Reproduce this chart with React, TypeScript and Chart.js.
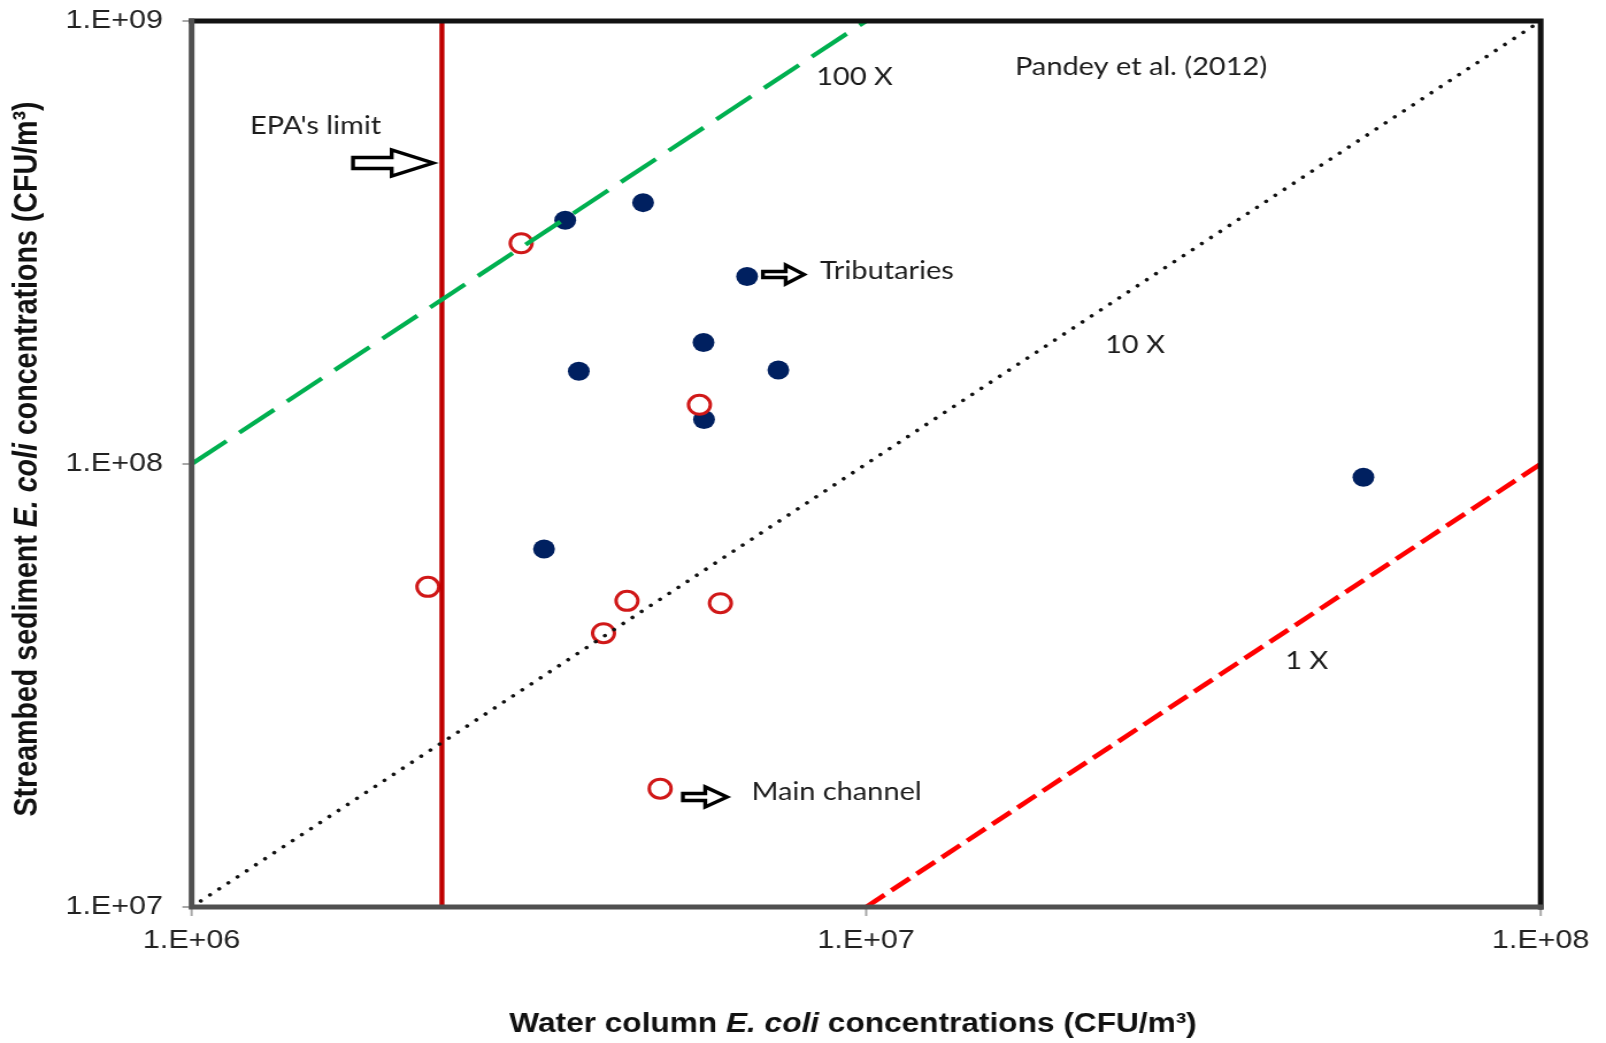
import React, { useEffect, useRef } from 'react';
import { Chart, registerables } from 'chart.js';

Chart.register(...registerables);

// Log-decade ticks
const xTickValues = [1e6, 1e7, 1e8];
const xTickLabels = ['1.E+06', '1.E+07', '1.E+08'];
const yTickValues = [1e7, 1e8, 1e9];
const yTickLabels = ['1.E+07', '1.E+08', '1.E+09'];

// Tributary sites: water column vs streambed sediment E. coli (CFU/m3)
const tributaryWater = [3.58e6, 4.67e6, 6.66e6, 5.74e6, 3.75e6, 7.41e6, 5.75e6, 3.33e6, 5.46e7];
const tributarySediment = [3.55e8, 3.89e8, 2.65e8, 1.88e8, 1.62e8, 1.63e8, 1.26e8, 6.43e7, 9.33e7];

// Main channel sites
const mainWater = [3.08e6, 5.66e6, 2.24e6, 4.42e6, 4.08e6, 6.08e6, 4.95e6];
const mainSediment = [3.15e8, 1.36e8, 5.28e7, 4.91e7, 4.15e7, 4.85e7, 1.85e7];

// EPA single-sample limit (235 CFU/100 mL) in CFU/m3
const epaLimit = 2.35e6;
const epaSedimentSpan = [1e7, 1e9];

// Reference ratio lines, sediment = k x water
const line100xWater = [1e6, 1e7];
const line100xSediment = [1e8, 1e9];
const line10xWater = [1e6, 1e8];
const line10xSediment = [1e7, 1e9];
const line1xWater = [1e7, 1e8];
const line1xSediment = [1e7, 1e8];

// Text notes placed in data coordinates
const notes = [
  { text: "EPA's limit", x: 1.221e6, y: 5.79e8 },
  { text: '100 X', x: 8.43e6, y: 7.47e8 },
  { text: 'Pandey et al. (2012)', x: 1.662e7, y: 7.87e8 },
  { text: 'Tributaries', x: 8.54e6, y: 2.734e8 },
  { text: '10 X', x: 2.26e7, y: 1.856e8 },
  { text: '1 X', x: 4.18e7, y: 3.6e7 },
  { text: 'Main channel', x: 6.76e6, y: 1.82e7 },
];

// Hollow block arrows (tail, tip, height in data coords)
const arrows = [
  { from: 1.735e6, to: 2.28e6, y: 4.78e8, head: 36, headH: 26, shaftH: 11 },
  { from: 7.03e6, to: 8.09e6, y: 2.678e8, head: 16, headH: 19, shaftH: 6 },
  { from: 5.35e6, to: 6.22e6, y: 1.772e7, head: 19, headH: 20, shaftH: 7 },
];

const pairs = (xs: number[], ys: number[]) => xs.map((x, i) => ({ x, y: ys[i] }));

// Canvas is drawn narrower and widened with CSS
const W = 1397;
const H = 1043;
const STRETCH = 1606 / W;
const PLOT_LEFT = 191.6 / STRETCH;
const PLOT_RIGHT = 1540.7 / STRETCH;
const PLOT_TOP = 21;
const PLOT_BOTTOM = 907;

const NOTE_FONT = '25.2px Lato, "Open Sans", sans-serif';

function blockArrow(ctx: CanvasRenderingContext2D, xTail: number, xTip: number, yc: number,
  headLen: number, headH: number, shaftH: number) {
  const xNeck = xTip - headLen;
  ctx.beginPath();
  ctx.moveTo(xTail, yc - shaftH / 2);
  ctx.lineTo(xNeck, yc - shaftH / 2);
  ctx.lineTo(xNeck, yc - headH / 2);
  ctx.lineTo(xTip, yc);
  ctx.lineTo(xNeck, yc + headH / 2);
  ctx.lineTo(xNeck, yc + shaftH / 2);
  ctx.lineTo(xTail, yc + shaftH / 2);
  ctx.closePath();
  ctx.fillStyle = '#ffffff';
  ctx.fill();
  ctx.lineWidth = 3.4;
  ctx.lineJoin = 'miter';
  ctx.strokeStyle = '#000000';
  ctx.stroke();
}

type Seg = { t: string; italic: boolean };

function drawSegments(ctx: CanvasRenderingContext2D, segs: Seg[], cx: number, cy: number, size: number) {
  const fontFor = (s: Seg) =>
    `${s.italic ? 'italic ' : ''}bold ${size}px "Liberation Sans", Arial, sans-serif`;
  let total = 0;
  const widths = segs.map((s) => {
    ctx.font = fontFor(s);
    const w = ctx.measureText(s.t).width;
    total += w;
    return w;
  });
  let x = cx - total / 2;
  ctx.textAlign = 'left';
  ctx.textBaseline = 'middle';
  ctx.fillStyle = '#111111';
  segs.forEach((s, i) => {
    ctx.font = fontFor(s);
    ctx.fillText(s.t, x, cy);
    x += widths[i];
  });
}

const xTitle: Seg[] = [
  { t: 'Water column ', italic: false },
  { t: 'E. coli', italic: true },
  { t: ' concentrations (CFU/m³)', italic: false },
];
const yTitle: Seg[] = [
  { t: 'Streambed sediment ', italic: false },
  { t: 'E. coli', italic: true },
  { t: ' concentrations (CFU/m³)', italic: false },
];

const decorations = {
  id: 'decorations',
  afterDraw(chart: any) {
    const ctx: CanvasRenderingContext2D = chart.ctx;
    const xs = chart.scales.x;
    const ys = chart.scales.y;
    const { left, right, top, bottom } = chart.chartArea;
    ctx.save();

    // small outside tick marks
    ctx.strokeStyle = '#a8a8a8';
    ctx.lineWidth = 2;
    yTickValues.forEach((v) => {
      const y = ys.getPixelForValue(v);
      ctx.beginPath();
      ctx.moveTo(left - 8, y);
      ctx.lineTo(left - 2, y);
      ctx.stroke();
    });
    xTickValues.forEach((v) => {
      const x = xs.getPixelForValue(v);
      ctx.beginPath();
      ctx.moveTo(x, bottom + 2);
      ctx.lineTo(x, bottom + 9);
      ctx.stroke();
    });

    // plot frame: grey axes, black top/right
    ctx.lineCap = 'square';
    ctx.lineWidth = 5;
    ctx.strokeStyle = '#121212';
    ctx.beginPath();
    ctx.moveTo(left, top);
    ctx.lineTo(right, top);
    ctx.lineTo(right, bottom);
    ctx.stroke();
    ctx.strokeStyle = '#505050';
    ctx.beginPath();
    ctx.moveTo(left, top);
    ctx.lineTo(left, bottom);
    ctx.lineTo(right, bottom);
    ctx.stroke();

    // notes
    ctx.font = NOTE_FONT;
    ctx.fillStyle = '#1c1c1c';
    ctx.textAlign = 'left';
    ctx.textBaseline = 'middle';
    notes.forEach((n) => {
      ctx.fillText(n.text, xs.getPixelForValue(n.x), ys.getPixelForValue(n.y));
    });

    // arrows
    arrows.forEach((a) => {
      blockArrow(ctx, xs.getPixelForValue(a.from), xs.getPixelForValue(a.to),
        ys.getPixelForValue(a.y), a.head, a.headH, a.shaftH);
    });

    // axis titles
    drawSegments(ctx, xTitle, 742, 1024, 27.5);
    ctx.translate(24, 459);
    ctx.rotate(-Math.PI / 2);
    drawSegments(ctx, yTitle, 0, 0, 28.6);
    ctx.restore();
  },
};

export default function App() {
  const ref = useRef<HTMLCanvasElement>(null);

  useEffect(() => {
    const canvas = ref.current;
    if (!canvas) return;
    const tickFont = { family: '"Liberation Sans", Arial, sans-serif', size: 26.5 };
    const chart = new Chart(canvas, {
      type: 'scatter',
      data: {
        datasets: [
          {
            label: '100 X',
            data: pairs(line100xWater, line100xSediment),
            showLine: true,
            borderColor: '#00b050',
            borderWidth: 4.2,
            borderDash: [38, 14],
            pointRadius: 0,
            order: 0,
          },
          {
            label: '10 X',
            data: pairs(line10xWater, line10xSediment),
            showLine: true,
            borderColor: '#111111',
            borderWidth: 3.6,
            borderDash: [0.01, 10],
            borderCapStyle: 'round',
            pointRadius: 0,
            order: 0,
          },
          {
            label: '1 X',
            data: pairs(line1xWater, line1xSediment),
            showLine: true,
            borderColor: '#ff0000',
            borderWidth: 4.6,
            borderDash: [20, 7.5],
            pointRadius: 0,
            order: 0,
          },
          {
            label: "EPA's limit",
            data: epaSedimentSpan.map((y) => ({ x: epaLimit, y })),
            showLine: true,
            borderColor: '#c00000',
            borderWidth: 4.4,
            pointRadius: 0,
            order: 1,
          },
          {
            label: 'Main channel',
            data: pairs(mainWater, mainSediment),
            pointRadius: 9.5,
            pointBorderWidth: 3,
            pointBorderColor: '#d01818',
            pointBackgroundColor: '#ffffff',
            order: 2,
          },
          {
            label: 'Tributaries',
            data: pairs(tributaryWater, tributarySediment),
            pointRadius: 9.5,
            pointBorderWidth: 0,
            pointBackgroundColor: '#002060',
            order: 3,
          },
        ],
      },
      options: {
        animation: false,
        responsive: false,
        maintainAspectRatio: false,
        devicePixelRatio: 1,
        events: [],
        layout: { padding: { top: PLOT_TOP, right: W - PLOT_RIGHT, bottom: 0, left: 0 } },
        plugins: { legend: { display: false }, tooltip: { enabled: false } },
        scales: {
          x: {
            type: 'logarithmic',
            min: 1e6,
            max: 1e8,
            afterBuildTicks: (s: any) => {
              s.ticks = xTickValues.map((value) => ({ value }));
            },
            afterFit: (s: any) => {
              s.height = H - PLOT_BOTTOM;
              s.paddingLeft = 0;
              s.paddingRight = 0;
            },
            grid: { display: false, drawTicks: false },
            border: { display: false },
            ticks: {
              callback: (_v: any, i: number) => xTickLabels[i],
              font: tickFont,
              color: '#222222',
              padding: 18,
              maxRotation: 0,
              autoSkip: false,
            },
          },
          y: {
            type: 'logarithmic',
            min: 1e7,
            max: 1e9,
            afterBuildTicks: (s: any) => {
              s.ticks = yTickValues.map((value) => ({ value }));
            },
            afterFit: (s: any) => {
              s.width = PLOT_LEFT;
              s.paddingTop = 0;
              s.paddingBottom = 0;
            },
            grid: { display: false, drawTicks: false },
            border: { display: false },
            ticks: {
              callback: (_v: any, i: number) => yTickLabels[i],
              font: tickFont,
              color: '#222222',
              padding: 25,
              autoSkip: false,
            },
          },
        },
      },
      plugins: [decorations],
    } as any);
    return () => chart.destroy();
  }, []);

  return (
    <div style={{ position: 'fixed', left: 0, top: 0, width: 1606, height: 1043, overflow: 'hidden', background: '#ffffff' }}>
      <div style={{ width: W, height: H, transform: `scaleX(${STRETCH})`, transformOrigin: '0 0' }}>
        <canvas ref={ref} width={W} height={H} style={{ display: 'block' }} />
      </div>
    </div>
  );
}
